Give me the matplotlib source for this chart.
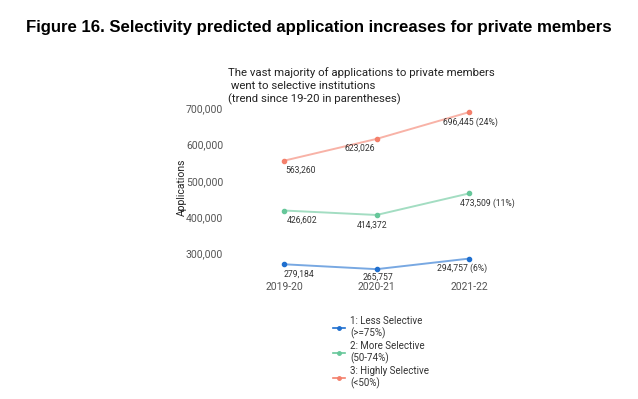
import matplotlib.pyplot as plt
import matplotlib.transforms as mtransforms

# data
years = ['2019-20', '2020-21', '2021-22']
less_sel = [279184, 265757, 294757]
more_sel = [426602, 414372, 473509]
high_sel = [563260, 623026, 696445]
trend_less = '6%'
trend_more = '11%'
trend_high = '24%'
series_names = ['1: Less Selective\n(>=75%)', '2: More Selective\n(50-74%)', '3: Highly Selective\n(<50%)']

colors = ['#1f6fcf', '#66c79a', '#f4806c']
# label offsets (points) for each value label, like ggrepel put them
offsets = [[(11, -7), (1, -6), (-5, -7)],
           [(13, -7), (-3, -7), (13, -7)],
           [(12, -7), (-12, -7), (1, -7)]]

fig = plt.figure(figsize=(6.38, 3.99), dpi=100)
fig.text(0.5, 0.932, 'Figure 16. Selectivity predicted application increases for private members',
         ha='center', va='center', fontsize=12.1, fontweight='bold', family='Liberation Sans')

ax = fig.add_axes([0.3605, 0.311, 0.4545, 0.4386])
x = list(range(len(years)))
all_series = [less_sel, more_sel, high_sel]
trends = [trend_less, trend_more, trend_high]
for i, vals in enumerate(all_series):
    ax.plot(x, vals, color=colors[i], alpha=0.6, lw=1.4, zorder=2)
    ax.scatter(x, vals, color=colors[i], s=9, zorder=3)
    for j, v in enumerate(vals):
        lab = '{:,}'.format(v)
        if j == len(vals) - 1:
            lab += ' ({})'.format(trends[i])
        ax.annotate(lab, (x[j], v), xytext=offsets[i][j], textcoords='offset points',
                     ha='center', va='center', fontsize=6.2, color='#333333', family='Roboto')
    # legend handle
    ax.plot([], [], color=colors[i], marker='o', ms=2.5, lw=1.2, label=series_names[i])

ax.set_xlim(-0.584, 2.55)
ax.set_ylim(250000, 730000)
ax.set_xticks(x)
ax.set_xticklabels(years)
yt = [300000, 400000, 500000, 600000, 700000]
ax.set_yticks(yt)
ax.set_yticklabels(['{:,}'.format(t) for t in yt])
ax.tick_params(length=0, labelsize=7.5, labelcolor='#555555', pad=5)
shift = mtransforms.ScaledTranslation(0, 3 / 100, fig.dpi_scale_trans)
for lbl in ax.get_yticklabels():
    lbl.set_transform(lbl.get_transform() + shift)
for lbl in ax.get_xticklabels() + ax.get_yticklabels():
    lbl.set_family('Roboto')
for s in ax.spines.values():
    s.set_visible(False)
ax.set_ylabel('Applications', fontsize=7.5, family='Roboto', color='#222222', labelpad=-1)

fig.text(0.357, 0.784, 'The vast majority of applications to private members\n went to selective institutions\n(trend since 19-20 in parentheses)',
         ha='left', va='center', fontsize=8.2, family='Roboto', color='#222222', linespacing=1.3)

leg = fig.legend(loc='upper left', bbox_to_anchor=(0.508, 0.230), frameon=False,
                 prop={'family': 'Roboto', 'size': 7}, handlelength=1.2,
                 handletextpad=0.6, labelspacing=0.15)
for t in leg.get_texts():
    t.set_color('#333333')

fig.savefig('out.png', dpi=100)
